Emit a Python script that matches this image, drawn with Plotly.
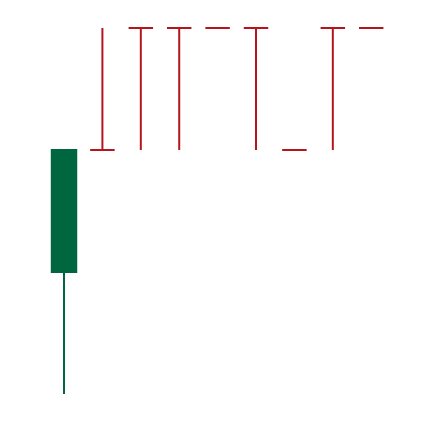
import plotly.graph_objects as go

# Candle data (first candle rises, remaining ones are flat)
x_up = [0]
open_up = [2]
high_up = [3]
low_up = [1]
close_up = [3]

x_dn = [1, 2, 3, 4, 5, 6, 7, 8]
open_dn = [3, 4, 4, 4, 4, 3, 4, 4]
high_dn = [4, 4, 4, 4, 4, 3, 4, 4]
low_dn = [3, 3, 3, 4, 3, 3, 3, 4]
close_dn = [3, 4, 4, 4, 4, 3, 4, 4]

GREEN = "#00663f"
RED = "#b5161e"

fig = go.Figure()
fig.add_trace(go.Candlestick(
    x=x_up, open=open_up, high=high_up, low=low_up, close=close_up,
    increasing=dict(line=dict(color=GREEN), fillcolor=GREEN),
    decreasing=dict(line=dict(color=GREEN), fillcolor=GREEN),
    showlegend=False,
))
fig.add_trace(go.Candlestick(
    x=x_dn, open=open_dn, high=high_dn, low=low_dn, close=close_dn,
    increasing=dict(line=dict(color=RED), fillcolor=RED),
    decreasing=dict(line=dict(color=RED), fillcolor=RED),
    showlegend=False,
))

fig.update_layout(
    width=434, height=422,
    margin=dict(l=0, r=0, t=0, b=0),
    paper_bgcolor="white", plot_bgcolor="white",
    boxgap=0.09,
    xaxis=dict(range=[-1.667, 9.635], visible=False, rangeslider=dict(visible=False)),
    yaxis=dict(range=[0.7705, 4.2295], visible=False),
)
fig.write_html("out.html")
